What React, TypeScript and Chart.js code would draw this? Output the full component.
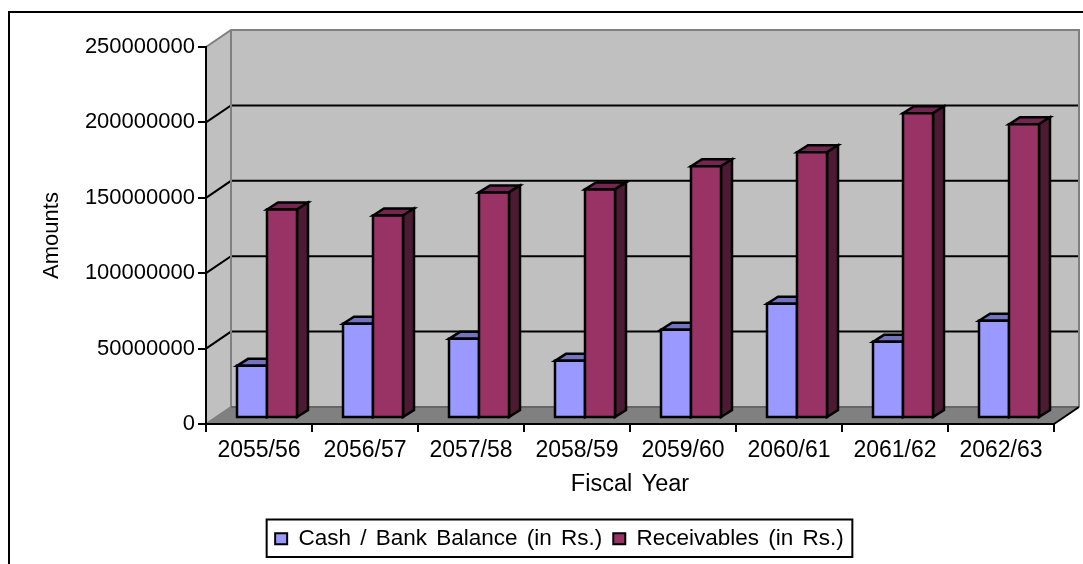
import React, { useEffect, useRef } from "react";
import { Chart, registerables } from "chart.js";

Chart.register(...registerables);

const fiscalYears = ["2055/56", "2056/57", "2057/58", "2058/59", "2059/60", "2060/61", "2061/62", "2062/63"];
const cashBank = [34600000, 62500000, 52500000, 37900000, 58500000, 75800000, 50500000, 64500000];
const receivables = [138300000, 134300000, 149600000, 151600000, 166900000, 176200000, 202100000, 194800000];

const FONT = { family: "'Liberation Sans', Arial, sans-serif", size: 22 };

// Perspective offsets of the 3D box: room depth, gap before a bar, bar depth.
const ROOM = { dx: 25, dy: -17 };
const BAR_SHIFT = { dx: 8, dy: -6 };
const BAR_DEPTH = { dx: 11, dy: -7 };
const BAR_OUTLINE = 2.5;
const LEGEND_SHIFT = 22.5;
const LEGEND_FRAME_INSET = 3;

const poly = (ctx: CanvasRenderingContext2D, pts: number[][], fill: string | null, stroke: string | null, lw = 2) => {
  ctx.beginPath();
  pts.forEach(([x, y], i) => (i ? ctx.lineTo(x, y) : ctx.moveTo(x, y)));
  if (fill) {
    ctx.closePath();
    ctx.fillStyle = fill;
    ctx.fill();
  }
  if (stroke) {
    ctx.strokeStyle = stroke;
    ctx.lineWidth = lw;
    ctx.lineJoin = "miter";
    ctx.stroke();
  }
};

const drawBox = (ctx: CanvasRenderingContext2D, bar: any, ds: any) => {
  const x0 = bar.x - bar.width / 2 + BAR_SHIFT.dx;
  const x1 = bar.x + bar.width / 2 + BAR_SHIFT.dx;
  const y0 = bar.y + BAR_SHIFT.dy;
  const y1 = bar.base + BAR_SHIFT.dy;
  const { dx, dy } = BAR_DEPTH;
  poly(ctx, [[x0, y0], [x0 + dx, y0 + dy], [x1 + dx, y0 + dy], [x1, y0]], ds.topColor, "#000000", BAR_OUTLINE);
  poly(ctx, [[x1, y0], [x1 + dx, y0 + dy], [x1 + dx, y1 + dy], [x1, y1]], ds.sideColor, "#000000", BAR_OUTLINE);
  poly(ctx, [[x0, y0], [x1, y0], [x1, y1], [x0, y1]], ds.backgroundColor, "#000000", BAR_OUTLINE);
};

// Page frame, legend frame, the walls and floor of the 3D room, and the bars as boxes.
const roomPlugin = {
  id: "room",
  beforeUpdate(chart: any) {
    (chart.ctx as any).wordSpacing = "3px";
  },
  afterLayout(chart: any) {
    const legend = chart.legend;
    legend.left += LEGEND_SHIFT;
    legend.right += LEGEND_SHIFT;
  },
  beforeDraw(chart: any) {
    const { ctx, width, height, chartArea: a, scales, legend } = chart;
    const { left: l, right: r, top: t, bottom: b } = a;
    const { dx, dy } = ROOM;
    ctx.save();
    ctx.fillStyle = "#ffffff";
    ctx.fillRect(0, 0, width, height);

    poly(ctx, [[9, height + 4], [9, 12], [width + 4, 12]], null, "#000000");

    poly(ctx, [[l, t], [l + dx, t + dy], [l + dx, b + dy], [l, b]], "#C0C0C0", null);
    poly(ctx, [[l + dx, t + dy], [r + dx, t + dy], [r + dx, b + dy], [l + dx, b + dy]], "#C0C0C0", null);
    poly(ctx, [[l, b], [l + dx, b + dy], [r + dx, b + dy], [r, b]], "#808080", null);

    // Gridlines run across the side wall and along the back wall.
    scales.y.ticks.forEach((tick: any) => {
      if (tick.value === 0 || tick.value === scales.y.max) return;
      const y = scales.y.getPixelForValue(tick.value);
      poly(ctx, [[l, y], [l + dx, y + dy], [r + dx, y + dy]], null, "#000000");
    });

    poly(ctx, [[l, t], [l + dx, t + dy], [r + dx, t + dy], [r + dx, b + dy]], null, "#808080");
    poly(ctx, [[l + dx, t + dy], [l + dx, b + dy], [l, b]], null, "#808080");
    poly(ctx, [[l + dx, b + dy], [r + dx, b + dy]], null, "#666666");
    poly(ctx, [[r, b], [r + dx, b + dy]], null, "#000000");

    const cx = (legend.left + legend.right) / 2;
    const half = legend.lineWidths[0] / 2 + 3;
    const top = legend.top + LEGEND_FRAME_INSET;
    const h = legend.bottom - legend.top - LEGEND_FRAME_INSET * 2;
    ctx.fillStyle = "#ffffff";
    ctx.fillRect(cx - half, top, half * 2, h);
    ctx.strokeStyle = "#000000";
    ctx.lineWidth = 2;
    ctx.strokeRect(cx - half, top, half * 2, h);
    ctx.restore();
  },
  // Series are painted in dataset order so each box covers its left neighbour's side face.
  beforeDatasetsDraw(chart: any) {
    const { ctx } = chart;
    ctx.save();
    chart.data.datasets.forEach((ds: any, i: number) => {
      chart.getDatasetMeta(i).data.forEach((bar: any) => drawBox(ctx, bar, ds));
    });
    ctx.restore();
  },
  beforeDatasetDraw() {
    return false;
  },
};

export default function App() {
  const ref = useRef<HTMLCanvasElement>(null);

  useEffect(() => {
    const chart = new Chart(ref.current as HTMLCanvasElement, {
      type: "bar",
      data: {
        labels: fiscalYears,
        datasets: [
          {
            label: "Cash / Bank Balance (in Rs.)",
            data: cashBank,
            backgroundColor: "#9999FF",
            topColor: "#7373BF",
            sideColor: "#4D4D80",
            borderColor: "#000000",
            borderWidth: 2,
            categoryPercentage: 0.566,
            barPercentage: 1,
          },
          {
            label: "Receivables (in Rs.)",
            data: receivables,
            backgroundColor: "#993366",
            topColor: "#732650",
            sideColor: "#4D1A33",
            borderColor: "#000000",
            borderWidth: 2,
            categoryPercentage: 0.566,
            barPercentage: 1,
          },
        ] as any,
      },
      options: {
        responsive: false,
        animation: false,
        layout: { padding: { left: 20, right: 29, top: 47, bottom: 4 } },
        plugins: {
          tooltip: { enabled: false },
          legend: {
            position: "bottom",
            labels: {
              font: { ...FONT, size: 22.5 },
              color: "#000000",
              boxWidth: 12,
              boxHeight: 11,
              padding: 11,
            },
          },
        },
        scales: {
          x: {
            afterFit: (s: any) => {
              s.height = 92.5;
              s.paddingLeft = 0;
              s.paddingRight = 0;
            },
            border: { color: "#000000", width: 2 },
            grid: { drawOnChartArea: false, color: "#000000", lineWidth: 2, tickLength: 8 },
            ticks: { font: { ...FONT, size: 23 }, color: "#000000", maxRotation: 0, autoSkip: false, padding: 5 },
            title: {
              display: true,
              text: "Fiscal Year",
              font: { ...FONT, size: 23.5 },
              color: "#000000",
              padding: { top: 8, bottom: 18 },
            },
          },
          y: {
            min: 0,
            max: 250000000,
            afterFit: (s: any) => {
              s.width = 186;
              s.paddingTop = 0;
              s.paddingBottom = 0;
            },
            border: { color: "#000000", width: 2 },
            grid: { drawOnChartArea: false, color: "#000000", lineWidth: 2, tickLength: 8 },
            ticks: {
              font: FONT,
              color: "#000000",
              stepSize: 50000000,
              padding: 3,
              callback: (v: any) => String(v),
            },
            title: { display: true, text: "Amounts", font: FONT, color: "#000000", padding: { top: 19, bottom: 0 } },
          },
        },
      },
      plugins: [roomPlugin],
    } as any);
    return () => chart.destroy();
  }, []);

  return <canvas ref={ref} width={1083} height={564} style={{ position: "fixed", left: 0, top: 0, display: "block" }} />;
}
